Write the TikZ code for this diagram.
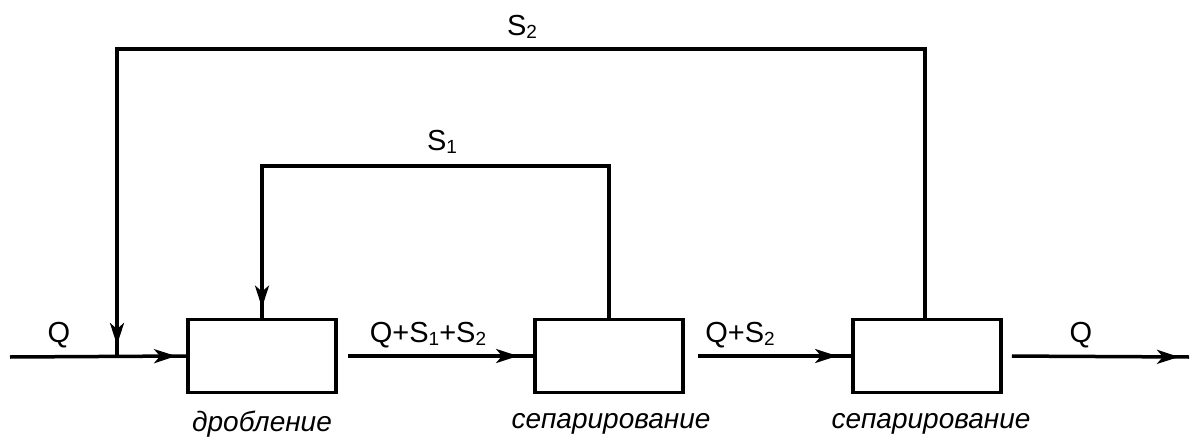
\documentclass[tikz,border=0pt]{standalone}
\usepackage{fontspec}
\setmainfont{Liberation Sans}
\usetikzlibrary{arrows.meta,decorations.markings}
\newcommand\subs[1]{\raisebox{-0.12em}{\fontsize{19}{19}\selectfont #1}}
\begin{document}
\begin{tikzpicture}[x=1pt,y=-1pt,
  line width=3.5pt,
  blk/.style={draw,line width=3.8pt,minimum width=148pt,minimum height=73pt,inner sep=0pt},
  lab/.style={font=\fontsize{29}{30}\selectfont,inner sep=0pt},
  captext/.style={font=\fontsize{28}{30}\selectfont\itshape,inner sep=0pt},
  flow/.style={postaction={decorate,decoration={markings,
      mark=at position -#1 with {\arrow{Stealth[length=22pt,width=14pt,inset=6pt]}}}}}
]
\useasboundingbox (0,0) rectangle (1190,441);
\node[blk] (b1) at (262,356) {};
\node[blk] (b2) at (609,356) {};
\node[blk] (b3) at (927,356) {};
\coordinate (in) at (10,357);
\coordinate (j) at (117,357);
\coordinate (out) at (1189,357);
% main line
\draw[flow=10pt] (in) -- (b1.west);
\draw[flow=15pt,shorten <=10pt] (b1.east) -- (b2.west);
\draw[flow=14pt,shorten <=13pt] (b2.east) -- (b3.west);
\draw[flow=10pt,shorten <=9pt] (b3.east) -- (out);
% recycle loops
\draw[flow=10pt,line join=miter] (b2.north) -- (609,166) -- (262,166) -- (b1.north);
\draw[flow=12pt,line join=miter] (925,318) -- (925,49) -- (117,49) -- (j);
% labels
\node[lab] (lq) at (59,335) {Q};
\node[lab] (l1) at (428,335) {Q+S\subs{1}+S\subs{2}};
\node[lab] (l2) at (740,335) {Q+S\subs{2}};
\node[lab] (lo) at (1081,335) {Q};
\node[lab] (ls1) at (442,142) {S\subs{1}};
\node[lab] (ls2) at (522,27) {S\subs{2}};
\node[captext] (c1) at (262,424) {дробление};
\node[captext] (c2) at (611,424) {сепарирование};
\node[captext] (c3) at (931,424) {сепарирование};
\end{tikzpicture}
\end{document}
